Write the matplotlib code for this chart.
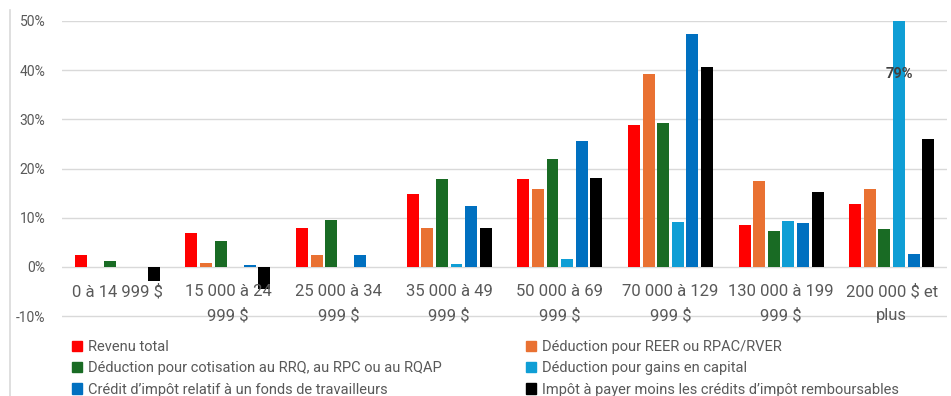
import numpy as np
import matplotlib.pyplot as plt
from matplotlib.patches import Patch
from matplotlib.lines import Line2D

plt.rcParams['font.family'] = ['Roboto', 'DejaVu Sans']

# Categories (income brackets)
categories = ['0 à 14 999 $', '15 000 à 24\n999 $', '25 000 à 34\n999 $', '35 000 à 49\n999 $',
              '50 000 à 69\n999 $', '70 000 à 129\n999 $', '130 000 à 199\n999 $', '200 000 $ et\nplus']

# Series values (%)
revenu_total = [2.4, 6.8, 7.9, 14.8, 17.9, 28.8, 8.5, 12.8]
reer = [0.0, 0.7, 2.4, 7.9, 15.8, 39.2, 17.5, 15.9]
rrq = [1.2, 5.3, 9.5, 17.9, 22.0, 29.2, 7.2, 7.6]
gains_capital = [0.0, 0.0, 0.0, 0.5, 1.6, 9.2, 9.3, 79.0]
fonds_travailleurs = [0.0, 0.4, 2.4, 12.4, 25.5, 47.4, 9.0, 2.6]
impot = [-2.8, -4.5, 0.0, 7.9, 18.0, 40.6, 15.3, 26.0]

series = [revenu_total, reer, rrq, gains_capital, fonds_travailleurs, impot]
labels = ['Revenu total', 'Déduction pour REER ou RPAC/RVER',
          'Déduction pour cotisation au RRQ, au RPC ou au RQAP', 'Déduction pour gains en capital',
          "Crédit d’impôt relatif à un fonds de travailleurs",
          "Impôt à payer moins les crédits d’impôt remboursables"]
colors = ['#ff0000', '#e97132', '#196b24', '#0f9ed5', '#0070c0', '#000000']

grey = '#595959'
fig = plt.figure(figsize=(9.51, 3.96), dpi=100)
# a bit of room below -10% so its gridline is not clipped
ax = fig.add_axes([62 / 951, 1 - 318 / 396, 885 / 951, 297 / 396])

x = np.arange(len(categories))
pitch = 0.132
width = 0.108
for i, (vals, col) in enumerate(zip(series, colors)):
    ax.bar(x + (i - 2.5) * pitch, vals, width, color=col, zorder=3)

# label for the clipped bar
ax.text(x[7] + 0.5 * pitch, 39.3, '79%', ha='center', va='center', fontsize=10.5,
        fontweight='bold', color='#404040', zorder=4)

ax.set_xlim(-0.5, len(categories) - 0.5)
ax.set_ylim(-10.4, 50)
ax.set_yticks(np.arange(-10, 51, 10))
ax.set_yticklabels([f'{v}%' for v in range(-10, 51, 10)], color=grey, fontsize=10)
ax.tick_params(axis='y', length=0, pad=12)
ax.set_xticks([])
ax.grid(axis='y', color='#d9d9d9', linewidth=1, zorder=0)
for s in ax.spines.values():
    s.set_visible(False)

for xi, lab in zip(x, categories):
    ax.text(xi, -3.4, lab, ha='center', va='top', fontsize=12, color=grey, linespacing=1.75)

# legends, two columns
h = [Patch(color=c) for c in colors]
kw = dict(frameon=False, handlelength=0.7, handleheight=0.7,
          handletextpad=0.4, labelspacing=0.5, borderaxespad=0, borderpad=0,
          prop={'size': 10.5})
lg1 = fig.legend(h[0::2], labels[0::2], loc='upper left', bbox_to_anchor=(72 / 951, 1 - 340 / 396), **kw)
for t in lg1.get_texts():
    t.set_color(grey)
lg2 = fig.legend(h[1::2], labels[1::2], loc='upper left', bbox_to_anchor=(526 / 951, 1 - 340 / 396), **kw)
for t in lg2.get_texts():
    t.set_color(grey)

fig.add_artist(Line2D([10 / 951, 10 / 951], [0, 1 - 10 / 396], color='#d9d9d9', linewidth=1.2))

fig.savefig('out.png', dpi=100)
